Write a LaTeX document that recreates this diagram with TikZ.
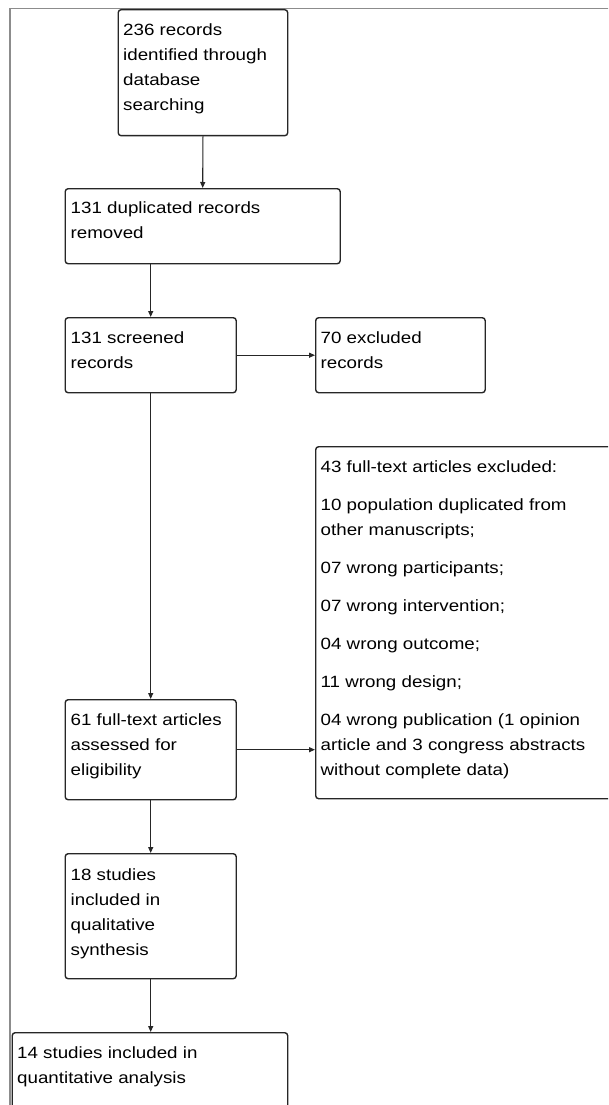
\documentclass[tikz,border=0pt]{standalone}
\usepackage{fontspec}
\setmainfont{Liberation Sans}[FakeStretch=1.15]
\usetikzlibrary{arrows.meta}
\begin{document}
\begin{tikzpicture}[x=1pt,y=-1pt,
  box/.style={draw=black!85, line width=1.4pt, rounded corners=3pt, rectangle, inner sep=0pt, anchor=north west},
  txt/.style={anchor=north west, inner sep=0pt, align=left, font=\fontsize{16.3}{25}\selectfont, text=black},
  arr/.style={draw=black!85, line width=1.1pt, -{Triangle[length=6pt,width=5pt]}},
  frameline/.style={draw=black!45, line width=1.2pt}]
\useasboundingbox (0,0) rectangle (608,1105);
\clip (0,0) rectangle (608,1105);
\fill[white] (0,0) rectangle (608,1105);
\draw[frameline] (10,1120) -- (10,8.5) -- (620,8.5);

\node[box, minimum width=169.5pt, minimum height=126pt] (b1) at (117.5,9) {};
\node[box, minimum width=275pt, minimum height=75pt] (b2) at (64.5,188) {};
\node[box, minimum width=171pt, minimum height=75pt] (b3) at (64.5,317) {};
\node[box, minimum width=169.5pt, minimum height=75pt] (b4) at (315,317) {};
\node[box, minimum width=320pt, minimum height=352pt] (b5) at (315,446) {};
\node[box, minimum width=171pt, minimum height=100pt] (b6) at (64.5,699) {};
\node[box, minimum width=171pt, minimum height=125pt] (b7) at (64.5,853) {};
\node[box, minimum width=275.5pt, minimum height=100pt] (b8) at (11.5,1032) {};

\node[txt] (t1) at (123,17.5) {\strut 236 records\\identified through\\database\\searching};
\node[txt] (t2) at (70.5,195.5) {\strut 131 duplicated records\\removed};
\node[txt] (t3) at (70.5,325.5) {\strut 131 screened\\records};
\node[txt] (t4) at (320.5,325.5) {\strut 70 excluded\\records};
\node[txt] (t5) at (320.5,454.5) {\strut 43 full-text articles excluded:\\[13pt]10 population duplicated from\\other manuscripts;\\[13pt]07 wrong participants;\\[13pt]07 wrong intervention;\\[13pt]04 wrong outcome;\\[13pt]11 wrong design;\\[13pt]04 wrong publication (1 opinion\\article and 3 congress abstracts\\without complete data)};
\node[txt] (t6) at (70.5,707.5) {\strut 61 full-text articles\\assessed for\\eligibility};
\node[txt] (t7) at (70.5,862.5) {\strut 18 studies\\included in\\qualitative\\synthesis};
\node[txt] (t8) at (17,1040.5) {\strut 14 studies included in\\quantitative analysis};

\draw[arr] (b1.south) -- (b2.north);
\draw[arr] (b2.south -| b3.north) -- (b3.north);
\draw[arr] (b3.east) -- (b4.west);
\draw[arr] (b3.south) -- (b6.north);
\draw[arr] (b6.east) -- (b6.east -| b5.west);
\draw[arr] (b6.south) -- (b7.north);
\draw[arr] (b7.south) -- (b7.south |- b8.north);
\end{tikzpicture}
\end{document}
